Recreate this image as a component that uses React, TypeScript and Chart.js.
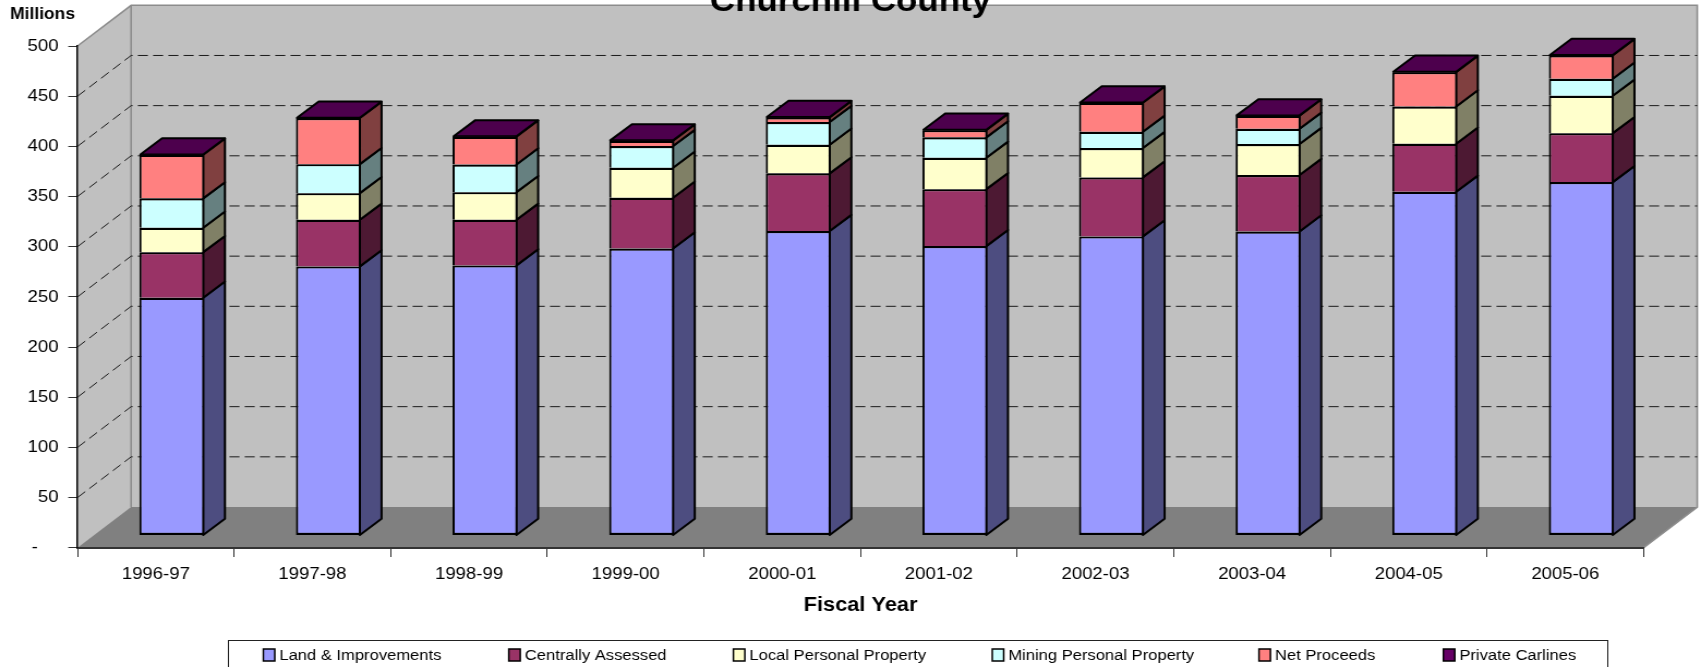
import React, { useEffect, useRef } from "react";
import { Chart, registerables } from "chart.js";

Chart.register(...registerables);

const fiscalYears = ["1996-97", "1997-98", "1998-99", "1999-00", "2000-01", "2001-02", "2002-03", "2003-04", "2004-05", "2005-06"];
const landImprovements = [236.9, 268.2, 269.2, 286.1, 303.4, 288.4, 298.1, 303.0, 342.5, 352.2];
const centrallyAssessed = [45.5, 46.4, 45.4, 50.5, 57.5, 56.8, 58.8, 56.2, 47.9, 48.8];
const localPersonal = [24.3, 26.6, 27.6, 29.9, 28.5, 31.2, 29.2, 30.9, 37.2, 37.2];
const miningPersonal = [29.3, 28.9, 27.6, 21.6, 22.6, 20.4, 16.2, 15.2, 0, 17.0];
const netProceeds = [43.4, 45.9, 27.6, 5.3, 4.7, 7.2, 28.9, 13.0, 34.2, 23.3];
const privateCarlines = [0.4, 0.4, 0.4, 0.4, 0.4, 0.4, 0.4, 0.4, 0.4, 0.4];

const seriesNames = ["Land & Improvements", "Centrally Assessed", "Local Personal Property", "Mining Personal Property", "Net Proceeds", "Private Carlines"];
const seriesValues = [landImprovements, centrallyAssessed, localPersonal, miningPersonal, netProceeds, privateCarlines];
const frontColors = ["#9999FF", "#993366", "#FFFFCC", "#CCFFFF", "#FF8080", "#660066"];
const sideColors = ["#4D4D80", "#4D1933", "#808066", "#668080", "#804040", "#330033"];
const topColor = "#4D004D";

const FONT = '"Liberation Sans", Arial, sans-serif';
const CANVAS_W = 1560;
const CANVAS_H = 667;
const SX = 1701 / CANVAS_W;
const wallDX = 53.6 / SX;
const wallDY = -40.7;
const barDX = 16 / SX;
const barDY = -12.2;
const sideDX = 21.7 / SX;
const sideDY = -16.2;
const legendSlots = [241.5, 466.6, 672.6, 910, 1154.6, 1323.7];

const threeD = {
  id: "threeD",
  beforeDraw(chart: any) {
    const { ctx, chartArea: a, scales } = chart;
    const y = scales.y;
    ctx.save();
    ctx.fillStyle = "#C0C0C0";
    ctx.beginPath();
    ctx.moveTo(a.left, a.top);
    ctx.lineTo(a.left + wallDX, a.top + wallDY);
    ctx.lineTo(a.right + wallDX, a.top + wallDY);
    ctx.lineTo(a.right + wallDX, a.bottom + wallDY);
    ctx.lineTo(a.left, a.bottom);
    ctx.closePath();
    ctx.fill();
    ctx.fillStyle = "#808080";
    ctx.beginPath();
    ctx.moveTo(a.left, a.bottom);
    ctx.lineTo(a.left + wallDX, a.bottom + wallDY);
    ctx.lineTo(a.right + wallDX, a.bottom + wallDY);
    ctx.lineTo(a.right, a.bottom);
    ctx.closePath();
    ctx.fill();
    ctx.strokeStyle = "#8C8C8C";
    ctx.lineWidth = 1.6;
    ctx.beginPath();
    ctx.moveTo(a.left, a.top);
    ctx.lineTo(a.left + wallDX, a.top + wallDY);
    ctx.lineTo(a.right + wallDX, a.top + wallDY);
    ctx.lineTo(a.right + wallDX, a.bottom + wallDY);
    ctx.lineTo(a.right, a.bottom);
    ctx.moveTo(a.left + wallDX, a.top + wallDY);
    ctx.lineTo(a.left + wallDX, a.bottom + wallDY);
    ctx.stroke();
    ctx.strokeStyle = "#1A1A1A";
    ctx.lineWidth = 1;
    ctx.setLineDash([9.2, 4.8]);
    y.ticks.forEach((t: any) => {
      if (t.value <= 0 || t.value >= y.max) return;
      const py = y.getPixelForValue(t.value);
      ctx.beginPath();
      ctx.moveTo(a.left, py);
      ctx.lineTo(a.left + wallDX, py + wallDY);
      ctx.lineTo(a.right + wallDX, py + wallDY);
      ctx.stroke();
    });
    ctx.restore();
  },
  beforeDatasetsDraw(chart: any) {
    const { ctx } = chart;
    ctx.save();
    ctx.translate(barDX, barDY);
    ctx.lineWidth = 2;
    ctx.lineJoin = "round";
    ctx.strokeStyle = "#000";
    const metas = chart.data.datasets.map((_: any, i: number) => chart.getDatasetMeta(i));
    const count = chart.data.labels.length;
    for (let j = 0; j < count; j++) {
      metas.forEach((meta: any, i: number) => {
        const el = meta.data[j];
        if (i === metas.length - 1 || Math.abs(el.base - el.y) < 0.01) return;
        const r = el.x + el.width / 2 - 1;
        ctx.fillStyle = sideColors[i];
        ctx.beginPath();
        ctx.moveTo(r, el.y);
        ctx.lineTo(r + sideDX, el.y + sideDY);
        ctx.lineTo(r + sideDX, el.base + sideDY);
        ctx.lineTo(r, el.base);
        ctx.closePath();
        ctx.fill();
        ctx.stroke();
      });
      const top = metas[metas.length - 1].data[j];
      const l = top.x - top.width / 2 + 1;
      const r = top.x + top.width / 2 - 1;
      ctx.fillStyle = topColor;
      ctx.beginPath();
      ctx.moveTo(l, top.y);
      ctx.lineTo(l + sideDX, top.y + sideDY);
      ctx.lineTo(r + sideDX, top.y + sideDY);
      ctx.lineTo(r, top.y);
      ctx.closePath();
      ctx.fill();
      ctx.stroke();
    }
  },
  afterDatasetsDraw(chart: any) {
    chart.ctx.restore();
  },
  afterDraw(chart: any) {
    const { ctx } = chart;
    ctx.save();
    ctx.fillStyle = "#000";
    ctx.textBaseline = "middle";
    ctx.textAlign = "center";
    ctx.font = `bold 16px ${FONT}`;
    ctx.fillText("Millions", 39, 14.5);

    ctx.strokeStyle = "#222";
    ctx.lineWidth = 1;
    ctx.strokeRect(209.5, 640.5, 1265, 60);

    ctx.font = `15.2px ${FONT}`;
    ctx.textAlign = "left";
    const yMid = 655;
    chart.data.datasets.forEach((ds: any, i: number) => {
      const x = legendSlots[i];
      ctx.fillStyle = frontColors[i];
      ctx.fillRect(x, yMid - 6, 10.5, 12);
      ctx.strokeStyle = "#000";
      ctx.lineWidth = 1.5;
      ctx.strokeRect(x, yMid - 6, 10.5, 12);
      ctx.fillStyle = "#000";
      ctx.fillText(ds.label, x + 14.7, yMid + 0.5);
    });
    ctx.restore();
  },
};

export default function App() {
  const ref = useRef<HTMLCanvasElement>(null);
  useEffect(() => {
    document.body.style.margin = "0";
    const chart = new Chart(ref.current as HTMLCanvasElement, {
      type: "bar",
      data: {
        labels: fiscalYears,
        datasets: seriesNames.map((name, i) => ({
          label: name,
          data: seriesValues[i],
          backgroundColor: frontColors[i],
          borderColor: "#000",
          borderWidth: { top: 2.2, left: 2, right: 2, bottom: i === 0 ? 2.2 : 0 },
          borderSkipped: false,
          barPercentage: 0.415,
          categoryPercentage: 1,
          clip: false,
        })) as any,
      },
      plugins: [threeD],
      options: {
        animation: false,
        responsive: false,
        devicePixelRatio: 1,
        layout: { autoPadding: false, padding: { left: 0, right: 0, top: 0, bottom: 0 } },
        plugins: {
          legend: { display: false },
          tooltip: { enabled: false },
          title: {
            display: true,
            text: "Churchill County",
            color: "#000",
            font: { family: FONT, size: 32, weight: "bold", lineHeight: 1.2 },
            padding: { top: -17, bottom: 24.6 },
          },
        },
        scales: {
          x: {
            stacked: true,
            afterFit: (s: any) => { s.height = 119.3; },
            grid: { drawOnChartArea: false, drawTicks: true, tickLength: 9.3, color: "#333", offset: true },
            border: { display: true, color: "#333", width: 2 },
            ticks: { color: "#000", font: { family: FONT, size: 17 }, padding: 7, autoSkip: false, maxRotation: 0 },
            title: {
              display: true,
              text: "Fiscal Year",
              color: "#000",
              font: { family: FONT, size: 20, weight: "bold" },
              padding: { top: 0, bottom: 50 },
            },
          },
          y: {
            stacked: true,
            min: 0,
            max: 500,
            afterFit: (s: any) => { s.width = 71.08; },
            grid: { drawOnChartArea: false, drawTicks: true, tickLength: 8.5, color: "#333" },
            border: { display: true, color: "#000", width: 1.5 },
            ticks: {
              stepSize: 50,
              color: "#000",
              font: { family: FONT, size: 17 },
              padding: 9,
              callback: (v: any) => (v === 0 ? "-    " : String(v)),
            },
          },
          spacer: {
            type: "linear",
            position: "right",
            display: true,
            afterFit: (s: any) => { s.width = 52.6; },
            grid: { display: false },
            border: { display: false },
            ticks: { display: false },
          },
        },
      } as any,
    });
    return () => chart.destroy();
  }, []);
  return (
    <div style={{ position: "fixed", left: 0, top: 0, width: 1701, height: 667, overflow: "hidden", background: "#fff" }}>
      <canvas
        ref={ref}
        width={CANVAS_W}
        height={CANVAS_H}
        style={{ display: "block", transformOrigin: "0 0", transform: `scaleX(${SX})` }}
      />
    </div>
  );
}
